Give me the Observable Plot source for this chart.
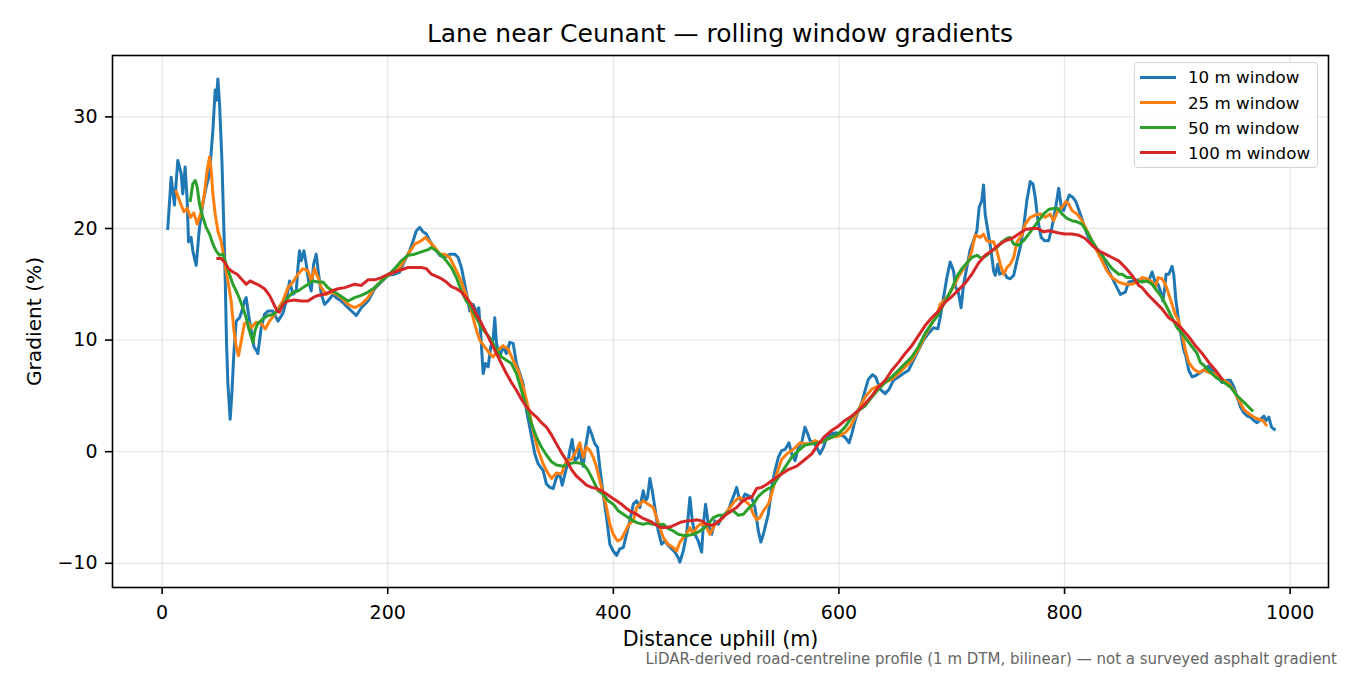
<!DOCTYPE html>
<html>
<head>
<meta charset="utf-8">
<script src="https://cdn.jsdelivr.net/npm/d3@7"></script>
<script src="https://cdn.jsdelivr.net/npm/@observablehq/plot@0.6"></script>
<style>
  html, body { margin: 0; padding: 0; background: #fff; }
  #wrap { position: relative; width: 1350px; height: 675px; overflow: hidden; font-family: "DejaVu Sans", sans-serif; color: #000; }
  #title { position: relative; height: 45px; }
  #title span { position: absolute; left: 0; width: 1440px; top: 21px; text-align: center; font-size: 25px; line-height: 25px; white-space: nowrap; }
  #chart { height: 605px; }
  #chart svg { display: block; }
  #caption { position: relative; height: 25px; }
  #caption span { position: absolute; right: 13px; top: 3px; font-size: 15px; line-height: 12px; color: #666; white-space: nowrap; }
  #legend { position: absolute; left: 1134px; top: 62px; width: 182px; height: 104px; border: 1px solid #d4d4d4; border-radius: 4px; background: rgba(255,255,255,0.8); }
  .row { position: absolute; left: 0; height: 20px; width: 182px; }
  .sw { position: absolute; left: 5px; top: 8.5px; width: 36px; height: 3px; }
  .lb { position: absolute; left: 53px; top: 0; font-size: 16.7px; line-height: 20px; white-space: nowrap; }
</style>
</head>
<body>
<div id="wrap">
  <div id="title"><span>Lane near Ceunant — rolling window gradients</span></div>
  <div id="chart"></div>
  <div id="caption"><span>LiDAR-derived road-centreline profile (1 m DTM, bilinear) — not a surveyed asphalt gradient</span></div>
  <div id="legend"></div>
</div>
<script>
// ---- data (distance uphill in m, gradient in %) ----
const seriesNames = ["10 m window", "25 m window", "50 m window", "100 m window"];
const seriesColors = ["#1f77b4", "#ff7f0e", "#2ca02c", "#d62728"];
const xTicks = [0, 200, 400, 600, 800, 1000];
const yTicks = [-10, 0, 10, 20, 30];

const dist10 = [5.0,8.0,10.9,13.9,16.9,18.3,20.4,22.2,23.4,25.7,27.2,30.2,33.1,36.1,39.0,42.0,45.0,47.0,48.2,49.4,50.9,53.0,54.7,55.9,57.1,58.3,60.3,61.8,63.6,65.7,68.6,70.7,73.0,74.5,76.6,81.4,83.4,84.9,87.8,90.8,93.8,98.2,102.7,107.1,110.0,113.0,116.0,118.9,120.4,121.8,123.3,125.7,127.8,129.8,132.2,134.3,136.6,138.7,141.1,144.0,147.0,151.5,154.4,158.8,164.8,172.1,176.6,182.5,188.4,194.3,200.3,206.1,210.6,215.0,219.5,222.5,225.4,228.4,231.3,234.3,237.2,241.7,246.1,250.5,254.9,259.4,262.4,265.3,267.7,270.6,272.7,275.7,278.6,280.7,282.4,284.6,286.6,289.0,291.3,293.4,294.9,296.4,299.3,302.3,305.2,308.2,311.2,314.1,317.1,320.0,323.0,325.9,330.4,333.4,337.8,340.7,343.7,346.7,349.6,352.5,354.7,360.0,361.4,363.5,365.9,368.8,370.3,371.8,373.3,375.3,378.3,380.7,383.6,386.0,388.0,391.0,394.0,396.9,399.9,402.8,405.8,408.8,411.7,414.6,417.7,420.6,423.5,426.5,428.6,430.3,432.4,434.5,436.8,439.8,442.8,445.7,448.7,451.6,454.6,457.6,459.0,462.0,464.9,467.9,470.0,472.3,475.3,478.3,479.8,481.8,484.2,487.1,490.1,493.1,496.0,498.9,501.9,504.9,507.3,509.3,511.4,513.8,516.7,522.6,525.6,528.5,530.8,533.0,535.9,537.4,540.4,543.3,546.3,549.2,552.2,555.7,558.1,561.1,564.1,567.0,569.9,572.3,574.4,577.4,580.3,583.2,586.3,589.2,593.6,598.0,605.4,609.0,611.4,614.3,617.3,620.2,623.2,626.1,629.7,632.6,636.5,640.9,644.5,648.3,652.8,657.2,661.7,666.1,670.5,675.0,679.4,683.9,687.7,689.7,692.7,695.7,698.6,701.6,703.3,706.0,708.3,710.5,713.4,716.3,719.3,722.3,724.3,726.7,728.2,729.6,732.0,734.9,737.1,738.5,740.9,742.4,746.0,748.9,751.9,754.9,757.8,760.7,763.7,766.6,769.6,772.0,774.0,776.4,779.3,782.3,785.9,788.8,791.7,794.8,797.1,799.2,801.2,804.2,807.2,810.1,813.9,816.9,819.9,824.3,828.7,833.2,837.6,842.1,846.5,849.5,853.9,856.9,861.3,865.8,870.2,874.6,877.6,880.0,882.9,885.0,887.1,888.9,890.0,892.4,895.3,896.8,898.8,901.2,903.6,905.7,907.7,910.1,913.1,916.0,920.4,924.9,927.9,930.8,935.3,939.7,944.1,947.0,950.1,953.0,956.0,958.9,961.9,964.8,967.8,970.7,973.7,976.7,978.7,981.1,983.5,986.0];
const grad10 = [20.0,24.6,22.1,26.1,24.9,23.1,25.5,22.5,18.8,19.2,18.0,16.7,20.1,22.2,23.7,24.9,28.8,32.4,31.5,33.4,31.2,26.1,20.1,15.6,9.7,6.1,2.9,5.2,8.8,11.7,12.0,12.6,13.5,13.8,12.3,9.4,9.1,8.8,11.1,12.3,12.6,12.6,11.7,12.4,13.5,15.3,14.1,14.4,16.5,18.0,17.1,18.0,16.8,15.3,14.4,16.8,17.7,15.9,14.1,13.2,13.5,14.1,13.8,13.5,12.9,12.2,12.9,13.5,14.6,15.2,15.8,15.9,16.1,17.1,18.0,18.9,19.8,20.1,19.7,19.5,18.9,18.2,17.6,17.4,17.7,17.7,17.4,16.5,15.3,13.8,12.6,13.2,12.5,12.9,10.6,7.0,7.9,7.6,9.4,10.0,12.0,9.7,8.5,9.4,8.8,9.8,9.7,7.9,7.0,6.1,3.7,2.2,-0.2,-1.1,-1.7,-2.9,-3.2,-3.3,-2.3,-2.0,-3.0,-0.8,0.1,1.1,-0.8,-0.5,0.4,-0.8,-1.3,0.4,2.2,1.6,0.7,0.4,-1.4,-3.8,-5.9,-8.3,-8.9,-9.3,-8.7,-8.6,-7.4,-6.2,-4.7,-4.4,-5.0,-3.5,-4.4,-4.1,-2.4,-3.5,-5.0,-7.1,-8.3,-8.0,-8.4,-8.7,-9.0,-9.5,-9.9,-8.9,-7.4,-4.1,-6.2,-7.4,-8.0,-9.0,-6.5,-4.7,-6.5,-7.4,-6.2,-6.5,-5.9,-5.6,-5.3,-4.4,-3.8,-3.2,-4.1,-4.4,-3.8,-4.1,-5.0,-7.1,-8.1,-7.4,-6.2,-5.6,-3.2,-1.7,-0.5,0.1,0.2,0.8,-0.2,-0.8,0.4,0.8,2.2,1.6,1.0,0.8,0.4,-0.2,0.4,1.3,1.6,1.7,1.3,0.8,1.6,2.8,3.7,4.4,5.5,6.5,6.9,6.7,5.6,5.2,5.6,6.4,6.7,7.0,7.3,8.2,9.1,10.0,10.6,11.1,11.0,12.0,13.8,15.6,17.0,16.2,14.8,14.2,12.9,15.0,16.5,18.1,18.9,19.8,21.9,22.5,23.9,21.3,19.8,18.0,16.2,15.8,16.8,15.9,16.1,15.6,15.5,15.8,17.1,18.3,20.1,22.5,24.2,24.0,22.8,20.7,19.2,18.9,18.9,20.1,21.6,23.6,21.9,21.6,22.2,23.0,22.8,22.4,21.3,20.4,19.5,18.6,18.2,17.4,16.5,15.6,14.7,14.1,14.3,15.2,15.3,15.4,15.3,15.3,16.1,15.3,15.0,14.4,13.5,14.7,15.9,15.9,16.6,15.9,13.5,11.7,10.3,9.1,8.5,7.3,6.7,6.8,7.1,7.4,7.7,7.3,6.8,6.2,6.4,6.4,5.8,4.9,4.0,3.5,3.2,3.1,2.8,2.6,2.9,3.2,2.8,3.1,2.2,2.0];

const dist25 = [12.4,15.4,19.2,22.2,25.1,28.1,31.1,34.6,37.5,39.9,42.0,43.5,45.0,47.0,49.4,52.4,55.3,58.3,61.2,63.6,65.7,67.7,70.1,73.0,76.6,79.0,83.4,87.8,91.4,95.2,99.1,102.7,107.1,111.5,116.0,120.4,124.8,129.3,132.2,135.1,138.2,141.1,145.5,150.0,154.4,158.8,164.8,170.6,176.6,182.5,188.4,194.3,200.3,206.1,212.1,218.0,223.9,229.8,233.4,237.2,241.7,246.1,250.5,254.9,259.4,263.8,268.2,272.7,275.7,278.6,281.5,285.9,290.4,293.4,297.9,302.3,306.7,311.2,315.6,320.0,324.5,328.9,333.4,337.8,340.7,345.2,349.6,354.0,358.5,362.9,367.4,370.3,373.3,376.2,379.2,382.2,385.1,388.0,391.0,394.0,396.9,399.9,403.7,407.3,410.8,413.8,417.7,420.6,423.5,426.5,430.9,435.4,438.3,441.3,444.3,448.7,453.2,456.1,459.0,462.0,464.9,467.9,470.9,473.8,476.8,479.8,482.7,485.6,488.6,491.6,494.5,497.5,500.4,503.4,507.8,512.2,516.7,521.1,524.1,527.1,530.0,533.0,537.4,540.4,544.8,549.2,553.7,558.1,562.6,565.5,569.9,574.4,578.8,583.2,587.7,593.6,599.6,605.4,609.9,614.3,618.7,623.2,629.1,635.1,641.0,646.9,652.8,658.7,664.6,670.5,676.4,682.3,686.8,689.7,692.7,697.2,701.6,706.0,710.5,714.9,717.8,720.8,725.3,728.2,731.1,734.1,737.1,740.0,743.0,746.0,748.9,751.9,754.9,757.8,762.2,765.2,769.6,774.0,778.5,782.9,787.3,790.3,794.1,797.7,801.2,803.6,806.6,811.0,815.4,819.9,824.3,828.7,833.2,837.6,842.1,848.0,853.9,859.8,865.8,868.7,873.1,877.6,880.5,882.9,886.4,889.4,892.4,895.3,898.2,901.2,904.2,907.1,910.1,914.5,918.9,923.4,927.9,932.3,936.7,941.2,945.6,950.1,954.5,958.9,963.4,967.8,972.3,975.8,978.7];
const grad25 = [23.3,22.5,21.5,21.8,21.0,21.4,20.4,21.5,23.1,25.2,26.4,25.2,23.1,21.3,19.8,18.8,17.1,15.3,13.5,10.9,9.4,8.6,9.9,11.5,11.5,11.1,11.6,11.5,11.0,11.7,12.2,12.8,13.5,14.7,15.2,15.9,16.4,16.2,15.3,16.4,15.6,14.7,14.1,14.3,14.1,13.8,13.2,12.9,13.2,13.8,14.7,15.3,15.8,16.1,16.7,17.7,18.6,18.9,19.2,18.8,18.3,17.7,17.7,17.4,16.5,15.6,14.4,13.2,12.0,10.9,10.0,9.4,8.8,8.5,9.1,9.5,9.2,8.2,7.3,5.8,4.0,1.9,0.1,-1.1,-1.7,-2.4,-1.9,-2.0,-0.8,-0.7,0.1,0.8,-0.5,0.4,0.1,-0.5,-1.4,-2.6,-3.8,-5.0,-6.5,-7.4,-8.0,-7.8,-7.1,-6.5,-6.2,-5.0,-4.7,-4.4,-4.7,-5.0,-5.9,-6.8,-7.7,-8.3,-8.6,-8.9,-8.1,-7.7,-7.4,-6.8,-7.4,-6.8,-6.5,-6.5,-6.8,-7.4,-6.8,-6.3,-6.2,-5.9,-5.4,-5.0,-4.4,-4.1,-4.4,-4.8,-5.6,-6.1,-5.9,-5.3,-4.7,-3.8,-2.0,-0.7,-0.2,0.1,0.5,0.8,0.7,0.7,1.0,0.8,1.0,1.3,1.4,1.7,2.2,3.1,4.0,4.9,5.6,5.9,6.2,6.5,7.0,7.6,8.2,9.2,10.4,11.5,12.2,13.2,13.5,14.0,14.8,15.7,16.4,17.1,18.0,19.4,19.2,19.5,18.9,18.8,18.8,18.0,16.8,15.9,16.5,16.8,17.4,18.8,19.4,20.4,21.0,21.2,21.3,21.0,21.3,20.7,21.6,21.9,22.4,22.2,21.6,21.3,20.7,19.8,18.9,18.0,17.1,16.2,15.6,15.2,15.0,15.0,15.3,15.6,15.5,15.2,14.7,15.6,15.5,15.0,14.1,13.2,12.3,11.7,10.6,9.1,8.0,7.4,7.1,7.3,7.1,7.0,6.7,6.4,6.1,5.5,4.6,3.8,3.4,3.1,2.9,2.8,2.4];

const dist50 = [25.0,27.2,29.3,31.1,33.1,36.1,39.0,42.0,45.0,47.9,50.8,53.9,56.8,59.7,62.7,65.7,68.6,71.6,74.5,76.6,79.0,80.5,82.5,84.9,89.4,93.8,98.2,102.7,107.1,111.5,116.0,120.4,124.8,129.3,133.7,138.2,142.6,147.0,151.5,155.9,161.8,164.8,170.6,176.6,182.5,188.4,194.3,200.3,206.1,212.1,218.0,223.9,229.8,235.8,238.6,243.1,247.6,252.0,256.4,260.9,265.3,269.7,274.2,278.6,283.1,287.5,291.9,296.4,300.8,305.2,309.7,314.1,318.5,323.0,327.4,331.9,336.3,340.7,345.2,349.6,355.6,360.0,364.4,368.8,373.3,377.7,382.2,386.6,391.0,395.5,399.9,404.4,408.8,413.2,417.7,422.1,426.5,430.9,435.4,439.8,444.3,448.7,453.2,457.6,462.0,466.5,470.9,475.3,479.8,484.2,488.6,493.1,497.5,501.9,506.4,510.9,515.3,519.7,524.1,528.5,533.0,537.4,540.4,546.3,552.2,558.1,564.1,569.9,575.9,581.8,587.7,593.6,599.6,605.4,611.4,617.3,623.2,629.1,635.1,641.0,646.9,652.8,658.7,664.6,670.5,676.4,682.3,688.3,694.2,700.1,704.5,709.0,713.4,717.8,722.3,726.7,731.1,735.6,740.0,744.5,748.9,751.9,754.9,759.3,763.7,768.2,772.6,777.0,781.5,785.9,790.3,794.1,797.7,802.1,806.6,811.0,815.4,819.9,824.3,828.7,833.2,837.6,842.1,848.0,851.0,855.3,859.8,864.2,868.7,873.1,877.6,882.1,886.5,891.0,895.3,899.8,904.2,908.6,913.1,917.5,920.4,924.9,929.4,933.8,938.2,942.7,947.0,951.5,956.0,960.4,966.3];
const grad50 = [22.5,24.0,24.3,23.7,22.2,21.0,20.1,19.5,18.6,18.0,17.6,17.7,16.8,15.9,15.0,14.4,13.7,12.9,12.0,11.1,10.3,9.8,10.9,11.5,11.9,12.2,12.3,12.6,13.2,13.8,14.3,14.4,14.7,15.0,15.3,15.2,15.2,14.7,14.4,14.1,13.7,13.5,13.8,14.0,14.3,14.7,15.3,15.8,16.4,17.1,17.6,17.7,17.9,18.1,18.3,18.0,17.6,17.1,16.5,15.6,14.4,13.5,12.9,12.0,11.1,10.6,10.0,9.1,8.5,8.2,7.9,7.0,5.5,4.0,2.5,1.3,0.4,-0.3,-0.9,-1.2,-1.3,-1.1,-1.0,-1.0,-1.1,-1.7,-2.6,-3.5,-3.8,-4.4,-4.7,-5.3,-5.6,-5.9,-6.2,-6.4,-6.5,-6.4,-6.5,-6.6,-6.5,-6.9,-7.1,-7.4,-7.5,-7.5,-7.4,-7.2,-6.9,-6.5,-5.9,-5.7,-5.7,-5.4,-5.3,-5.7,-5.6,-5.1,-4.7,-4.0,-3.6,-3.3,-3.2,-2.3,-1.4,-0.5,0.1,0.6,0.7,0.8,1.0,1.3,1.6,2.2,3.1,3.7,4.1,4.9,5.6,6.2,6.7,7.3,7.9,8.5,9.4,10.6,11.5,12.3,13.5,14.6,15.7,16.4,16.9,17.4,17.6,17.3,17.6,18.0,18.3,18.8,19.1,19.2,18.6,18.5,18.9,19.5,20.1,20.7,21.3,21.7,21.8,21.8,21.3,20.9,20.7,20.6,20.4,19.7,18.9,18.2,17.6,17.0,16.4,15.9,15.9,15.6,15.6,15.3,15.2,15.3,15.0,14.4,13.8,12.9,12.0,11.1,10.6,10.0,9.4,8.8,8.0,7.6,7.1,6.7,6.4,6.1,5.8,5.2,4.7,4.3,3.7];

const dist100 = [49.4,52.4,55.3,58.8,62.7,66.5,70.1,74.5,78.1,81.9,86.3,90.8,95.2,99.1,102.0,104.1,107.1,111.5,117.4,123.3,129.3,133.7,138.2,144.0,150.0,155.9,161.8,167.7,170.6,176.6,182.5,188.4,194.3,200.3,206.1,212.1,218.0,223.9,229.8,234.3,238.7,243.1,247.6,252.0,256.4,260.9,265.3,269.7,274.2,278.6,283.1,287.5,291.9,296.4,300.8,305.2,309.7,314.1,318.5,323.0,327.4,331.9,336.3,340.7,345.2,349.6,354.0,358.5,362.9,367.4,371.8,376.2,380.7,385.1,389.5,394.0,398.4,402.8,407.3,411.7,416.1,420.6,425.0,429.5,433.9,438.3,442.8,447.2,451.6,456.1,460.5,464.9,469.4,473.8,478.3,482.7,487.1,491.6,496.0,500.4,504.9,509.3,513.8,518.2,522.6,527.1,531.5,536.5,540.4,543.3,549.2,555.2,562.6,569.9,575.9,581.8,587.7,593.6,599.6,605.4,611.4,617.3,623.2,629.1,635.1,641.0,646.9,652.8,658.7,664.6,670.5,676.4,682.3,688.3,694.2,700.1,706.0,711.9,717.8,723.8,729.6,735.6,741.5,747.4,753.3,759.3,765.2,771.1,776.4,781.5,785.9,790.3,794.8,800.6,806.6,812.5,818.4,824.3,830.3,836.2,842.1,848.0,853.9,859.8,865.8,868.7,874.6,880.5,886.4,892.4,898.2,904.2,910.1,916.0,922.0,927.9,933.8,939.7];
const grad100 = [17.3,17.3,17.0,16.4,16.1,15.9,15.5,15.0,15.3,15.1,14.9,14.6,14.0,13.2,12.6,12.5,13.2,13.5,13.6,13.5,13.5,13.8,14.0,14.1,14.4,14.6,14.7,14.9,15.0,14.9,15.4,15.4,15.6,15.9,16.1,16.3,16.5,16.5,16.5,16.4,15.9,15.7,15.5,15.2,14.8,14.6,14.3,13.8,13.2,12.3,11.5,10.6,9.7,8.8,7.9,7.0,6.2,5.5,4.7,4.0,3.5,3.1,2.6,2.2,1.5,0.7,-0.1,-0.8,-1.6,-2.2,-2.6,-3.0,-3.2,-3.3,-3.5,-3.8,-4.1,-4.4,-4.7,-5.1,-5.4,-5.6,-5.9,-6.1,-6.3,-6.6,-6.8,-6.8,-6.7,-6.5,-6.3,-6.2,-6.2,-6.1,-6.2,-6.5,-6.6,-6.4,-6.0,-5.6,-5.3,-5.0,-4.5,-4.2,-4.1,-3.3,-3.2,-2.9,-2.6,-2.4,-2.0,-1.6,-1.3,-0.7,-0.2,0.7,1.4,1.9,2.3,2.8,3.2,3.7,4.3,5.0,5.8,6.4,7.3,8.0,8.8,9.5,10.4,11.3,12.0,12.6,13.4,13.9,14.5,15.1,15.9,16.9,17.6,18.0,18.5,18.9,19.1,19.5,19.9,20.0,20.0,19.7,19.8,19.7,19.6,19.5,19.5,19.4,19.1,18.5,18.0,17.7,17.4,17.1,16.5,15.8,14.9,14.7,14.0,13.4,12.8,12.0,11.6,11.0,10.3,9.5,8.8,8.0,7.3,6.5];

// ---- build table ----
const dists = [dist10, dist25, dist50, dist100];
const grads = [grad10, grad25, grad50, grad100];
const rows = [];
seriesNames.forEach((name, k) => {
  dists[k].forEach((d, i) => rows.push({dist: d, grad: grads[k][i], series: name}));
});

const fmt = d => (d < 0 ? "\u2212" + Math.abs(d) : String(d));
const font = "DejaVu Sans";

const chart = Plot.plot({
  width: 1350,
  height: 605,
  marginLeft: 112,
  marginRight: 22,
  marginTop: 10,
  marginBottom: 63,
  style: {fontFamily: font, fontSize: "19px", color: "#000", background: "#fff", overflow: "visible"},
  x: {domain: [-44, 1034]},
  y: {domain: [-12.17, 35.5]},
  color: {domain: seriesNames, range: seriesColors},
  marks: [
    Plot.gridX(xTicks, {stroke: "#b0b0b0", strokeOpacity: 0.3, strokeWidth: 1.3}),
    Plot.gridY(yTicks, {stroke: "#b0b0b0", strokeOpacity: 0.3, strokeWidth: 1.3}),
    Plot.axisX(xTicks, {tickSize: 7, tickPadding: 11, strokeWidth: 1.6, tickFormat: fmt, label: null, fontSize: 19}),
    Plot.axisY(yTicks, {tickSize: 7, tickPadding: 8, strokeWidth: 1.6, tickFormat: fmt, label: null, fontSize: 19}),
    Plot.line(rows, {x: "dist", y: "grad", z: "series", stroke: "series", strokeWidth: 3, strokeLinejoin: "round", strokeLinecap: "square"}),
    Plot.frame({stroke: "#000", strokeWidth: 1.6}),
    Plot.text(["Distance uphill (m)"], {frameAnchor: "bottom", textAnchor: "middle", dy: 52.3, fontSize: 20.6, lineAnchor: "middle"}),
    Plot.text(["Gradient (%)"], {frameAnchor: "left", textAnchor: "middle", dx: -78.2, rotate: -90, fontSize: 20.2, lineAnchor: "middle"})
  ]
});
document.getElementById("chart").appendChild(chart);

// ---- legend ----
const legend = document.getElementById("legend");
seriesNames.forEach((name, i) => {
  const row = document.createElement("div");
  row.className = "row";
  row.style.top = (4.3 + i * 25.2) + "px";
  const sw = document.createElement("div");
  sw.className = "sw";
  sw.style.background = seriesColors[i];
  const lb = document.createElement("div");
  lb.className = "lb";
  lb.textContent = name;
  row.appendChild(sw);
  row.appendChild(lb);
  legend.appendChild(row);
});
</script>
</body>
</html>
